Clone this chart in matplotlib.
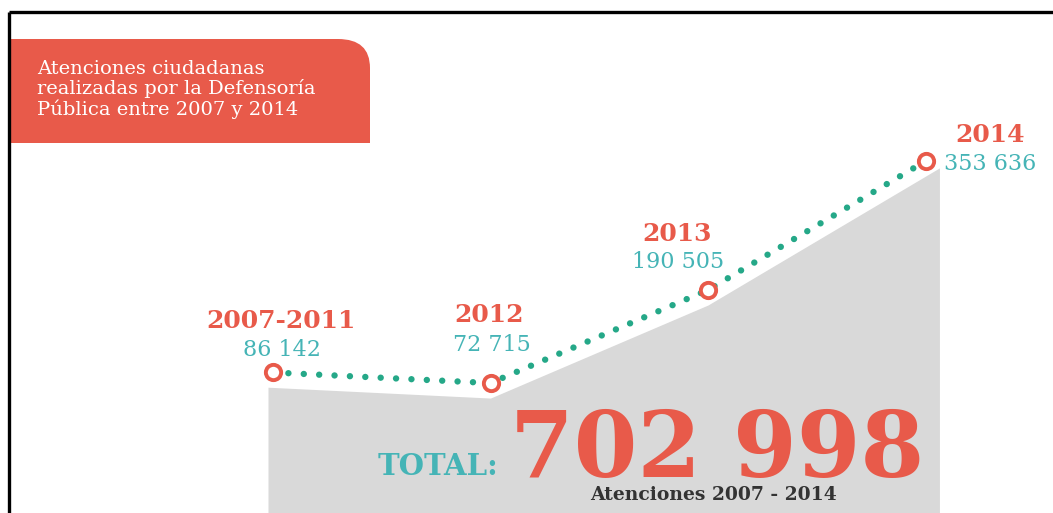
import numpy as np
import matplotlib
matplotlib.use("Agg")
import matplotlib.pyplot as plt
import matplotlib.patches as patches
from matplotlib.path import Path

# [DATA]
periodos = ["2007-2011", "2012", "2013", "2014"]
atenciones = [86142, 72715, 190505, 353636]
titulo = ["Atenciones ciudadanas", "realizadas por la Defensoría", "Pública entre 2007 y 2014"]
subtitulo_total = "Atenciones 2007 - 2014"

# [STYLE]
ROJO = "#E85A4A"
TEAL = "#45B4B6"
PUNTOS = "#25A888"
GRIS = "#D9D9D9"
SERIF = ["DejaVu Serif"]

W, H = 1053, 513


def fmt(v: int) -> str:
    return f"{v:,}".replace(",", " ")


fig = plt.figure(figsize=(W / 100, H / 100), dpi=100)

# decoration layer in pixel coordinates
deco = fig.add_axes([0, 0, 1, 1])
deco.set_xlim(0, W)
deco.set_ylim(H, 0)
deco.axis("off")

# frame (top + left only)
deco.plot([9, W], [12, 12], color="black", lw=2.4, solid_capstyle="butt")
deco.plot([9, 9], [12, H], color="black", lw=2.4, solid_capstyle="butt")

# title box, rounded top-right corner
verts = [(10, 143), (10, 39), (338, 39), (370, 39), (370, 68), (370, 143), (10, 143)]
codes = [Path.MOVETO, Path.LINETO, Path.LINETO, Path.CURVE3, Path.CURVE3, Path.LINETO, Path.CLOSEPOLY]
deco.add_patch(patches.PathPatch(Path(verts, codes), facecolor=ROJO, edgecolor="none"))
for i, line in enumerate(titulo):
    deco.text(37, 74 + i * 20.5, line, color="white", fontsize=14, family=SERIF, va="baseline")

# chart layer in data coordinates
ax = fig.add_axes([0, 0, 1, 1])
ax.patch.set_alpha(0)
ax.axis("off")
px_x = 217.5          # pixels per category step
px_y = 0.00079        # pixels per attention
x0_px, y0_px = 273, 440.5
ax.set_xlim(-x0_px / px_x, (W - x0_px) / px_x)
ax.set_ylim((y0_px - H) / px_y, y0_px / px_y)

x = np.arange(len(periodos))
y = np.array(atenciones, dtype=float)

# grey shadow area under the line
drop = 15 / px_y
gx = np.array([x[0] - 0.023, *x[1:-1], x[-1] + 0.064])
slope_l = (y[1] - y[0]) / (x[1] - x[0])
slope_r = (y[-1] - y[-2]) / (x[-1] - x[-2])
gy = np.concatenate([[y[0] - 0.023 * slope_l], y[1:-1], [y[-1] + 0.064 * slope_r]]) - drop
ax.fill_between(gx, gy, ax.get_ylim()[0], color=GRIS, lw=0, zorder=1)

# dotted line + open markers
ax.plot(x, y, color=PUNTOS, lw=4.6, linestyle=(0, (0.01, 2.4)), dash_capstyle="round", zorder=2)
ax.plot(x, y, "o", ms=11, mfc="white", mec=ROJO, mew=2.8, zorder=3)

year_off = [(8, 44), (-1, 61), (-31, 49), (65, 19)]
val_off = [(9, 16), (1, 32), (-30, 22), (18, -9)]
val_ha = ["center", "center", "center", "left"]
for i, p in enumerate(periodos):
    ax.annotate(p, (x[i], y[i]), xytext=year_off[i], textcoords="offset pixels",
                ha="center", va="baseline", color=ROJO, fontsize=18, fontweight="bold", family=SERIF, zorder=4)
    ax.annotate(fmt(atenciones[i]), (x[i], y[i]), xytext=val_off[i], textcoords="offset pixels",
                ha=val_ha[i], va="baseline", color=TEAL, fontsize=16, family=SERIF, zorder=4)

# total
total = sum(atenciones)
fig.text(378, 475, "TOTAL:", transform=deco.transData, color=TEAL, fontsize=21,
         fontweight="bold", family=SERIF, va="baseline", ha="left")
fig.text(510, 477, fmt(total), transform=deco.transData, color=ROJO, fontsize=66,
         fontweight="bold", family=SERIF, va="baseline", ha="left")
fig.text(714, 500, subtitulo_total, transform=deco.transData, color="#333333", fontsize=13.5,
         fontweight="bold", family=SERIF, va="baseline", ha="center")

fig.savefig("out.png", dpi=100, facecolor="white")
